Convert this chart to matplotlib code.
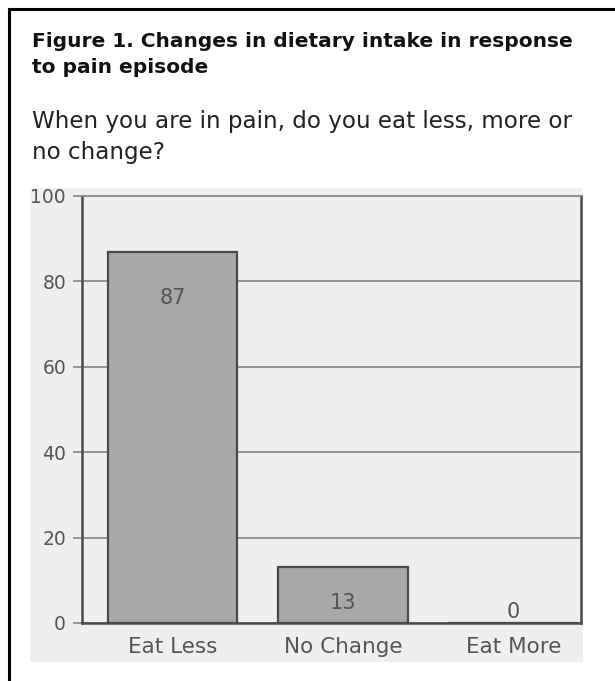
import matplotlib
matplotlib.use("Agg")
import matplotlib.pyplot as plt
from matplotlib.patches import Rectangle
from matplotlib.lines import Line2D

# data
categories = ["Eat Less", "No Change", "Eat More"]
values = [87, 13, 0]
yticks = [0, 20, 40, 60, 80, 100]

title_lines = ["Figure 1. Changes in dietary intake in response", "to pain episode"]
question_lines = ["When you are in pain, do you eat less, more or", "no change?"]

W, H = 615, 681
fig = plt.figure(figsize=(W / 100, H / 100), dpi=100)

# light grey panel behind chart
fig.add_artist(Rectangle((30 / W, 1 - 662 / H), (583 - 30) / W, (662 - 188) / H,
                         transform=fig.transFigure, facecolor="#efefef",
                         edgecolor="none", zorder=0))

# black frame (open on right and bottom)
fig.add_artist(Line2D([9 / W, 9 / W], [0, 1 - 9 / H], transform=fig.transFigure,
                      color="black", lw=2.2))
fig.add_artist(Line2D([9 / W, 1], [1 - 9 / H, 1 - 9 / H], transform=fig.transFigure,
                      color="black", lw=2.2))

# title and question, one line at a time
for line, base in zip(title_lines, [47, 73]):
    fig.text(32 / W, 1 - base / H, line, fontsize=14.5, fontweight="bold",
             va="baseline", ha="left", color="#111111")
for line, base in zip(question_lines, [128, 159]):
    fig.text(32 / W, 1 - base / H, line, fontsize=16.6, va="baseline",
             ha="left", color="#222222")

ax = fig.add_axes([82 / W, 1 - 623 / H, (581 - 82) / W, (623 - 196) / H])
ax.set_facecolor("none")

x = range(len(categories))
ax.bar(x, values, width=0.757, color="#a8a8a8", edgecolor="#4a4a4a",
       linewidth=1.6, zorder=3)

for xi, v in zip(x, values):
    if v > 30:
        ty = v - 11
    else:
        ty = max(v * 0.36, 2.6)
    ax.text(xi, ty, str(v), ha="center", va="center", fontsize=15,
            color="#555555", zorder=4)

ax.set_xlim(-0.531, 2.396)
ax.set_ylim(0, 100)
ax.set_yticks(yticks)
ax.set_xticks(list(x))
ax.set_xticklabels(categories)

ax.yaxis.grid(True, color="#8c8c8c", lw=1.3, zorder=1)
ax.set_axisbelow(True)

for side in ["left", "right", "bottom"]:
    ax.spines[side].set_color("#4a4a4a")
    ax.spines[side].set_linewidth(1.8)
ax.spines["top"].set_color("#8c8c8c")
ax.spines["top"].set_linewidth(1.3)

ax.tick_params(axis="y", length=6.5, width=1.3, color="#8c8c8c",
               labelsize=13.5, labelcolor="#555555", pad=5)
ax.tick_params(axis="x", length=0, labelsize=15.5, labelcolor="#555555", pad=10)

fig.savefig("out.png", dpi=100)
